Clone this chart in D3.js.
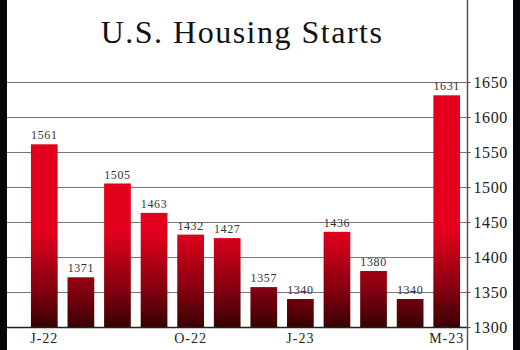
<!doctype html>
<html lang="en">
<head>
<meta charset="utf-8">
<title>U.S. Housing Starts</title>
<script src="https://cdn.jsdelivr.net/npm/d3@7"></script>
<style>
  body { margin: 0; background: #000; }
  svg { display: block; }
</style>
</head>
<body>
<svg></svg>
<script>
  var months = ["Jun-22", "Jul-22", "Aug-22", "Sep-22", "Oct-22", "Nov-22", "Dec-22", "Jan-23", "Feb-23", "Mar-23", "Apr-23", "May-23"];
  var starts = [1561, 1371, 1505, 1463, 1432, 1427, 1357, 1340, 1436, 1380, 1340, 1631];
  var shownTicks = ["Jun-22", "Oct-22", "Jan-23", "May-23"];
  var tickLabels = { "Jun-22": "J-22", "Oct-22": "O-22", "Jan-23": "J-23", "May-23": "M-23" };
  var yTicks = [1300, 1350, 1400, 1450, 1500, 1550, 1600, 1650];

  var width = 520, height = 350;
  var svg = d3.select("svg").attr("width", width).attr("height", height);

  // black frame, white panel
  svg.append("rect").attr("width", width).attr("height", height).attr("fill", "#05070a");
  svg.append("rect").attr("x", 7).attr("y", 0).attr("width", 506).attr("height", height).attr("fill", "#fff");

  var xScale = d3.scaleBand().domain(months).range([26, 465]).paddingInner(0.27).paddingOuter(0.135);
  var yScale = d3.scaleLinear().domain([1300, 1650]).range([327, 82]);

  // gradient in chart space so short bars come out dark
  var defs = svg.append("defs");
  var grad = defs.append("linearGradient").attr("id", "barGrad")
    .attr("gradientUnits", "userSpaceOnUse")
    .attr("x1", 0).attr("x2", 0).attr("y1", yScale(1435)).attr("y2", yScale(1300));
  grad.append("stop").attr("offset", "0%").attr("stop-color", "#e2001c");
  grad.append("stop").attr("offset", "55%").attr("stop-color", "#8c0010");
  grad.append("stop").attr("offset", "100%").attr("stop-color", "#3a0004");

  // gridlines
  svg.append("g").selectAll("line").data(yTicks.slice(1)).enter().append("line")
    .attr("x1", 7).attr("x2", 468)
    .attr("y1", function (d) { return yScale(d) + 0.5; })
    .attr("y2", function (d) { return yScale(d) + 0.5; })
    .attr("stroke", "#777").attr("stroke-width", 1);

  // bars
  svg.append("g").selectAll("rect").data(starts).enter().append("rect")
    .attr("x", function (d, i) { return xScale(months[i]); })
    .attr("y", function (d) { return yScale(d); })
    .attr("width", xScale.bandwidth())
    .attr("height", function (d) { return yScale(1300) - yScale(d); })
    .attr("fill", "url(#barGrad)");

  // value labels
  svg.append("g").selectAll("text").data(starts).enter().append("text")
    .attr("x", function (d, i) { return xScale(months[i]) + xScale.bandwidth() / 2; })
    .attr("y", function (d) { return yScale(d) - 5; })
    .attr("text-anchor", "middle")
    .attr("font-family", "Liberation Serif, serif")
    .attr("font-size", 12)
    .attr("letter-spacing", 0.6)
    .attr("fill", "#333")
    .text(function (d) { return d; });

  // baseline
  svg.append("line").attr("x1", 7).attr("x2", 468)
    .attr("y1", 327.5).attr("y2", 327.5).attr("stroke", "#222").attr("stroke-width", 1.5);

  // x axis labels
  var xAxis = d3.axisBottom(xScale).tickValues(shownTicks).tickSize(0).tickPadding(5)
    .tickFormat(function (d) { return tickLabels[d]; });
  var gx = svg.append("g").attr("transform", "translate(0,328)").call(xAxis);
  gx.select(".domain").remove();
  gx.selectAll("text").attr("font-family", "Liberation Serif, serif").attr("font-size", 14)
    .attr("letter-spacing", 1).attr("fill", "#222");

  // right y axis
  var yAxis = d3.axisRight(yScale).tickValues(yTicks).tickSize(3).tickPadding(3).tickFormat(d3.format("d"));
  var gy = svg.append("g").attr("transform", "translate(467.5,0)").call(yAxis);
  gy.select(".domain").attr("d", "M0,0V" + height).attr("stroke", "#555").attr("stroke-width", 1.5);
  gy.selectAll("line").attr("stroke", "#555");
  gy.selectAll("text").attr("font-family", "Liberation Serif, serif").attr("font-size", 16)
    .attr("letter-spacing", 0.6).attr("fill", "#222");

  // title
  svg.append("text").attr("x", 242).attr("y", 43).attr("text-anchor", "middle")
    .attr("font-family", "Liberation Serif, serif").attr("font-size", 32)
    .attr("letter-spacing", 1.5).attr("fill", "#111")
    .text("U.S. Housing Starts");
</script>
</body>
</html>
